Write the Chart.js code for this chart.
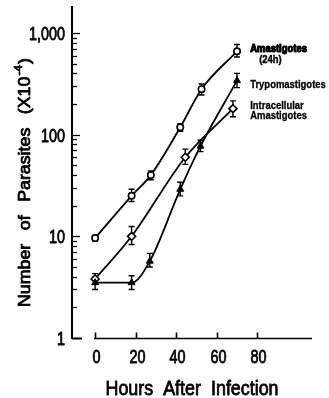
<!DOCTYPE html>
<html><head><meta charset="utf-8">
<script src="https://cdn.jsdelivr.net/npm/chart.js@4.4.0/dist/chart.umd.min.js"></script>
<style>html,body{margin:0;padding:0;background:#fff;}canvas{display:block;}</style>
</head><body><canvas id="c" width="329" height="398"></canvas>
<script>
const FONT = "'Liberation Sans', Arial, Helvetica, sans-serif";
const xTicks = [0, 20, 40, 60, 80];
const xTickLabels = ['0', '20', '40', '60', '80'];
const yTicks = [1, 10, 100, 1000];
const yTickLabels = ['1', '10', '100', '1,000'];
const xTitle = 'Hours After Infection';
const yTitleMain = 'Number of Parasites (X10';
const yTitleSup = '-4';
const yTitleEnd = ')';
const seriesNames = [['Amastigotes', '(24h)'], ['Trypomastigotes'], ['Intracellular', 'Amastigotes']];

const amaHours = [0, 18, 27.5, 42, 52.5, 70];
const amaValues = [9.6, 25, 40, 118, 280, 660];
const amaLow = [9.0, 22, 36, 108, 245, 580];
const amaHigh = [10.2, 29, 44, 128, 315, 770];

const tryHours = [0, 18, 27, 42, 52, 70];
const tryValues = [3.5, 3.5, 5.7, 29, 77, 340];
const tryLow = [3.0, 3.0, 5.0, 25, 68, 290];
const tryHigh = [4.0, 4.1, 6.8, 34, 88, 400];

const intHours = [0, 18, 44.5, 68];
const intValues = [3.8, 10, 60, 180];
const intLow = [3.4, 8.3, 51, 150];
const intHigh = [4.3, 12.5, 72, 215];

function pts(xs, ys) { return xs.map((x, i) => ({ x: x, y: ys[i] })); }

// draw horizontally-scaled, slightly emboldened text
function sText(ctx, text, x, y, font, sx, align, baseline, wordSp, weight) {
  ctx.save();
  ctx.font = font;
  if (wordSp !== undefined && 'wordSpacing' in ctx) ctx.wordSpacing = wordSp + 'px';
  ctx.textAlign = align || 'left';
  ctx.textBaseline = baseline || 'alphabetic';
  ctx.translate(x, y);
  ctx.scale(sx, 1);
  ctx.fillText(text, 0, 0);
  ctx.lineWidth = weight === undefined ? 0.8 : weight;
  ctx.lineJoin = 'round';
  ctx.strokeText(text, 0, 0);
  ctx.restore();
}

const errorBars = {
  id: 'errorBars',
  beforeDatasetsDraw(chart) {
    const ctx = chart.ctx, xs = chart.scales.x, ys = chart.scales.y;
    ctx.save();
    ctx.strokeStyle = '#000';
    ctx.lineWidth = 1.4;
    chart.data.datasets.forEach(ds => {
      ds.data.forEach((p, i) => {
        const px = xs.getPixelForValue(p.x);
        const y1 = ys.getPixelForValue(ds.errLow[i]);
        const y2 = ys.getPixelForValue(ds.errHigh[i]);
        ctx.beginPath();
        ctx.moveTo(px, y1); ctx.lineTo(px, y2);
        ctx.moveTo(px - 3, y1); ctx.lineTo(px + 3, y1);
        ctx.moveTo(px - 3, y2); ctx.lineTo(px + 3, y2);
        ctx.stroke();
      });
    });
    ctx.restore();
  }
};

const axesDeco = {
  id: 'axesDeco',
  afterDraw(chart) {
    const ctx = chart.ctx, xs = chart.scales.x, ys = chart.scales.y, ca = chart.chartArea;
    ctx.save();
    ctx.strokeStyle = '#000';
    ctx.fillStyle = '#000';
    // y ticks (inside)
    for (let d = 1; d <= 1000; d *= 10) {
      for (let m = 1; m <= 9; m++) {
        const v = d * m;
        if (v > ys.max) continue;
        const py = Math.round(ys.getPixelForValue(v)) + 0.5;
        const len = v === 1 ? 10 : (m === 1 ? 8 : 5);
        ctx.lineWidth = v === 1 ? 2 : 1.3;
        ctx.beginPath();
        ctx.moveTo(ca.left, py); ctx.lineTo(ca.left + len, py);
        ctx.stroke();
      }
    }
    // y tick labels
    yTicks.forEach((v, i) => {
      sText(ctx, yTickLabels[i], ca.left - 7, ys.getPixelForValue(v) + 2, '18px ' + FONT, 0.8, 'right', 'middle');
    });
    // x axis
    const by = Math.round(ca.bottom) + 0.5;
    ctx.lineWidth = 1.6;
    ctx.beginPath();
    ctx.moveTo(xs.getPixelForValue(0) - 1, by); ctx.lineTo(ca.right, by);
    ctx.stroke();
    xTicks.forEach((v, i) => {
      const px = Math.round(xs.getPixelForValue(v)) + 0.5;
      ctx.lineWidth = 1.6;
      ctx.beginPath(); ctx.moveTo(px, by); ctx.lineTo(px, by - 6); ctx.stroke();
      sText(ctx, xTickLabels[i], px + 1, by + 20, '18px ' + FONT, 0.8, 'center', 'middle');
    });
    // x title, fitted to width 173
    ctx.font = '21px ' + FONT;
    if ('wordSpacing' in ctx) ctx.wordSpacing = '6px';
    const xw = ctx.measureText(xTitle).width;
    if ('wordSpacing' in ctx) ctx.wordSpacing = '0px';
    sText(ctx, xTitle, (ca.left + ca.right) / 2, 395, '21px ' + FONT, 173 / xw, 'center', 'alphabetic', 6);
    // y title, rotated, fitted to length 249
    const big = '16.5px ' + FONT, small = '11px ' + FONT;
    ctx.save();
    ctx.font = big;
    if ('wordSpacing' in ctx) ctx.wordSpacing = '8px';
    const w1 = ctx.measureText(yTitleMain).width; const w3 = ctx.measureText(yTitleEnd).width;
    ctx.font = small; const w2 = ctx.measureText(yTitleSup).width;
    const total = w1 + w2 + w3 + 2;
    const k = 249 / total;
    ctx.translate(30, 182.5);
    ctx.rotate(-Math.PI / 2);
    ctx.scale(k, 1);
    ctx.textBaseline = 'alphabetic';
    ctx.textAlign = 'left';
    ctx.lineWidth = 0.8;
    ctx.lineJoin = 'round';
    const x0 = -total / 2;
    ctx.font = big; ctx.fillText(yTitleMain, x0, 0); ctx.strokeText(yTitleMain, x0, 0);
    ctx.font = small; ctx.fillText(yTitleSup, x0 + w1 + 1, -8); ctx.strokeText(yTitleSup, x0 + w1 + 1, -8);
    ctx.font = big; ctx.fillText(yTitleEnd, x0 + w1 + w2 + 2, 0); ctx.strokeText(yTitleEnd, x0 + w1 + w2 + 2, 0);
    ctx.restore();
    // series labels
    const lx = xs.getPixelForValue(76.5);
    const offs = [[-2, 8.5], [4.5], [-3, 7.5]];
    const indent = [[0, 9], [0], [0, 0]];
    const lw = [[1.1, 0.4], [0.3], [0.3, 0.3]];
    chart.data.datasets.forEach((ds, k2) => {
      const last = ds.data[ds.data.length - 1];
      const py = ys.getPixelForValue(last.y);
      seriesNames[k2].forEach((t, j) => sText(ctx, t, lx + indent[k2][j], py + offs[k2][j], 'bold 10.5px ' + FONT, 0.9, 'left', 'middle', undefined, lw[k2][j]));
    });
    ctx.restore();
  }
};

new Chart(document.getElementById('c'), {
  type: 'line',
  data: {
    datasets: [
      { data: pts(amaHours, amaValues), errLow: amaLow, errHigh: amaHigh,
        borderColor: '#000', borderWidth: 1.8, cubicInterpolationMode: 'monotone', fill: false,
        pointStyle: 'circle', pointRadius: 3.2, pointBackgroundColor: '#fff', pointBorderColor: '#000', pointBorderWidth: 1.6 },
      { data: pts(tryHours, tryValues), errLow: tryLow, errHigh: tryHigh,
        borderColor: '#000', borderWidth: 1.8, cubicInterpolationMode: 'monotone', fill: false,
        pointStyle: 'triangle', pointRadius: 4, pointBackgroundColor: '#000', pointBorderColor: '#000', pointBorderWidth: 1 },
      { data: pts(intHours, intValues), errLow: intLow, errHigh: intHigh,
        borderColor: '#000', borderWidth: 1.8, cubicInterpolationMode: 'monotone', fill: false,
        pointStyle: 'rectRot', pointRadius: 4, pointBackgroundColor: '#fff', pointBorderColor: '#000', pointBorderWidth: 1.6 }
    ]
  },
  options: {
    responsive: false, animation: false,
    layout: { padding: { top: 7, right: 17, left: 0, bottom: 0 } },
    plugins: { legend: { display: false }, tooltip: { enabled: false } },
    scales: {
      x: {
        type: 'linear', min: -11.4, max: 107,
        afterFit(s) { s.height = 60; s.paddingLeft = 0; s.paddingRight = 0; s.paddingTop = 0; s.paddingBottom = 0; },
        afterBuildTicks(s) { s.ticks = xTicks.map(v => ({ value: v })); },
        grid: { display: false, drawTicks: false }, border: { display: false },
        ticks: { display: false }
      },
      y: {
        type: 'logarithmic', min: 1, max: 1800,
        afterFit(s) { s.width = 72; s.paddingLeft = 0; s.paddingRight = 0; s.paddingTop = 0; s.paddingBottom = 0; },
        afterBuildTicks(s) { s.ticks = yTicks.map(v => ({ value: v })); },
        grid: { display: false, drawTicks: false }, border: { display: true, color: '#000', width: 2 },
        ticks: { display: false }
      }
    }
  },
  plugins: [errorBars, axesDeco]
});
</script>
</body></html>
